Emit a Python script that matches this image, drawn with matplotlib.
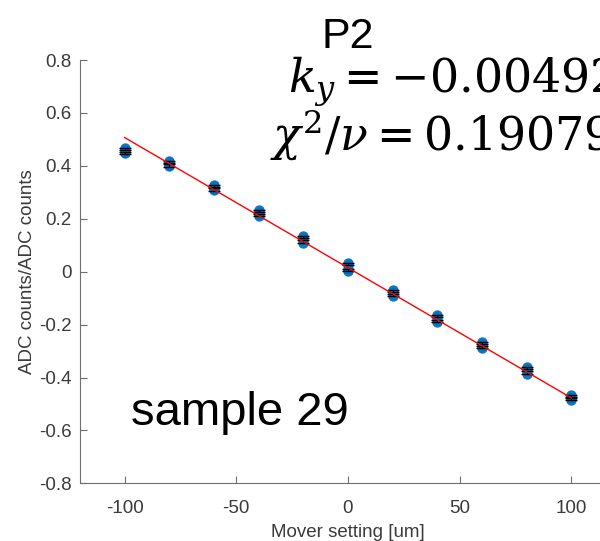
import matplotlib.pyplot as plt
import numpy as np

plt.rcParams['font.family'] = ['Liberation Sans', 'DejaVu Sans']
plt.rcParams['axes.unicode_minus'] = False

# mover settings and measured ratios (several samples per setting)
settings = [-100, -80, -60, -40, -20, 0, 20, 40, 60, 80, 100]
ratios = [
    [0.447, 0.453, 0.460, 0.466],
    [0.398, 0.405, 0.412, 0.418],
    [0.307, 0.314, 0.321, 0.328],
    [0.212, 0.218, 0.226, 0.232],
    [0.110, 0.118, 0.128, 0.136],
    [0.003, 0.012, 0.024, 0.034],
    [-0.093, -0.085, -0.077, -0.068],
    [-0.192, -0.183, -0.173, -0.163],
    [-0.290, -0.282, -0.273, -0.265],
    [-0.385, -0.377, -0.368, -0.360],
    [-0.485, -0.479, -0.472, -0.465],
]
err = 0.004
k_y = -0.00492
offset = 0.015
chi2 = 0.19079

fig = plt.figure(figsize=(6, 5.41), dpi=100)
# axes run past the right edge of the picture (cropped original)
ax = fig.add_axes([0.1333, 0.1066, 0.8933, 0.7824])

for x, ys in zip(settings, ratios):
    xs = [x] * len(ys)
    ax.plot(xs, ys, 'o', color='#0072BD', ms=6.5, alpha=0.9, zorder=2)
    ax.errorbar([x, x], [np.mean(ys[:2]), np.mean(ys[2:])], yerr=err,
                fmt='none', ecolor='black', elinewidth=0.8, capsize=4, zorder=3)

xf = np.array([-100, 100])
ax.plot(xf, offset + k_y * xf, color='red', lw=1, zorder=4)

ax.set_xlim(-120, 120)
ax.set_ylim(-0.8, 0.8)
ax.set_xticks([-100, -50, 0, 50, 100])
ax.set_yticks(np.arange(-0.8, 0.81, 0.2))
ax.set_yticklabels(['-0.8', '-0.6', '-0.4', '-0.2', '0', '0.2', '0.4', '0.6', '0.8'])
for s in ['top', 'right']:
    ax.spines[s].set_visible(False)
for s in ['left', 'bottom']:
    ax.spines[s].set_color('#6e6e6e')
ax.tick_params(direction='in', labelsize=13.5, length=5, color='#6e6e6e',
               labelcolor='#3a3a3a', pad=6)
ax.tick_params(axis='x', pad=12)
ax.set_xlabel('Mover setting [um]', fontsize=13.5, color='#3a3a3a', labelpad=5)
ax.set_ylabel('ADC counts/ADC counts', fontsize=13.5, color='#3a3a3a', labelpad=2)

ax.set_title('P2', fontsize=31, pad=9)
fig.text(0.48, 0.830, r'$k_y = -0.00492$', fontsize=33, math_fontfamily='dejavuserif')
fig.text(0.45, 0.7227, r'$\chi^2/\nu = 0.19079$', fontsize=33, math_fontfamily='dejavuserif')
ax.text(-97.2, -0.579, 'sample 29', fontsize=34)

fig.savefig('out.png')
